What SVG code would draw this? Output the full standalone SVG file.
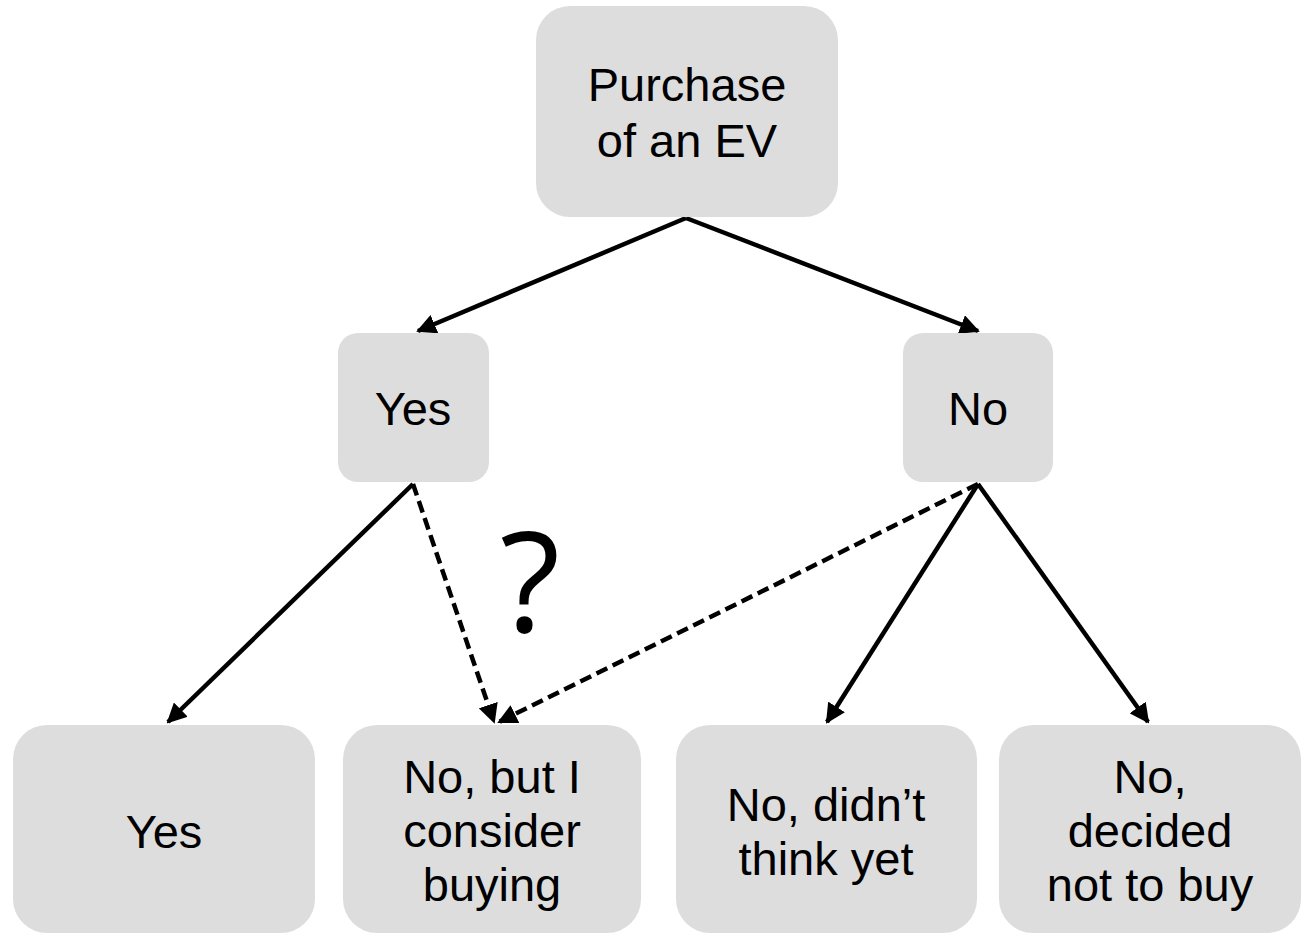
<svg xmlns="http://www.w3.org/2000/svg" width="1307" height="935" viewBox="0 0 1307 935">
<style>
.box{fill:#dddddd}
.t{font-family:"Liberation Sans",Arial,sans-serif;font-size:47px;fill:#000;text-anchor:middle}
.c{stroke:#000;stroke-width:4.5;fill:none}
.d{stroke-dasharray:12,6}
</style>
<defs>
<marker id="ah" viewBox="0 0 10 10" refX="9" refY="5" markerWidth="4.4" markerHeight="4.4" orient="auto" markerUnits="strokeWidth">
<path d="M0,0 L10,5 L0,10 z" fill="#000"/>
</marker>
</defs>
<rect width="1307" height="935" fill="#fff"/>
<g id="connectors">
<line class="c" x1="686" y1="218" x2="418" y2="331" marker-end="url(#ah)"/>
<line class="c" x1="686" y1="218" x2="978" y2="331" marker-end="url(#ah)"/>
<line class="c" x1="413" y1="484" x2="168" y2="722" marker-end="url(#ah)"/>
<line class="c d" x1="413" y1="484" x2="494" y2="722" marker-end="url(#ah)"/>
<line class="c d" x1="978" y1="484" x2="499" y2="722" marker-end="url(#ah)"/>
<line class="c" x1="978" y1="484" x2="827" y2="722" marker-end="url(#ah)"/>
<line class="c" x1="978" y1="484" x2="1148" y2="722" marker-end="url(#ah)"/>
</g>
<g id="n-root"><rect class="box" x="536" y="6" width="302" height="211" rx="34"/>
<text class="t" x="687" y="101">Purchase</text><text class="t" x="687" y="157">of an EV</text></g>
<g id="n-yes"><rect class="box" x="338" y="333" width="151" height="149" rx="20"/>
<text class="t" x="413" y="425">Yes</text></g>
<g id="n-no"><rect class="box" x="903" y="333" width="150" height="149" rx="20"/>
<text class="t" x="978" y="425">No</text></g>
<g id="n-b1"><rect class="box" x="13" y="725" width="302" height="208" rx="34"/>
<text class="t" x="164" y="848">Yes</text></g>
<g id="n-b2"><rect class="box" x="343" y="725" width="298" height="208" rx="34"/>
<text class="t" x="492" y="793">No, but I</text><text class="t" x="492" y="847">consider</text><text class="t" x="492" y="901">buying</text></g>
<g id="n-b3"><rect class="box" x="676" y="725" width="301" height="208" rx="34"/>
<text class="t" x="826" y="821">No, didn’t</text><text class="t" x="826" y="875">think yet</text></g>
<g id="n-b4"><rect class="box" x="999" y="725" width="302" height="208" rx="34"/>
<text class="t" x="1150" y="793">No,</text><text class="t" x="1150" y="847">decided</text><text class="t" x="1150" y="901">not to buy</text></g>
<text x="530" y="632" style="font-family:'Open Sans','Noto Sans',sans-serif;font-size:140px;fill:#000;text-anchor:middle">?</text>
</svg>
